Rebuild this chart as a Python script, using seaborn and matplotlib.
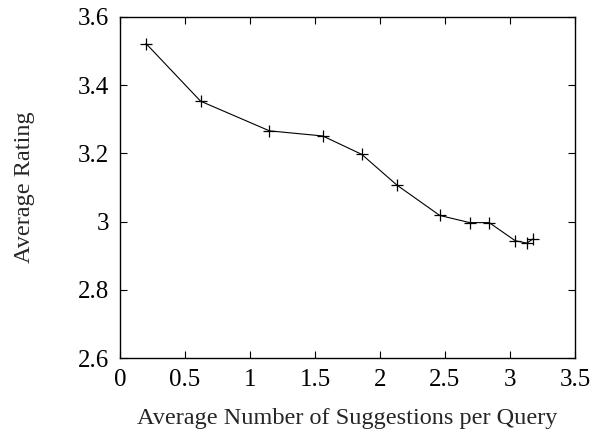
import matplotlib
matplotlib.use("Agg")
import matplotlib.pyplot as plt
import seaborn as sns
import pandas

# values
suggestions = [0.20, 0.62, 1.15, 1.56, 1.86, 2.13, 2.46, 2.69, 2.84, 3.04, 3.13, 3.18]
rating = [3.522, 3.353, 3.266, 3.251, 3.197, 3.107, 3.018, 2.997, 2.997, 2.944, 2.937, 2.950]
xticks = [0, 0.5, 1, 1.5, 2, 2.5, 3, 3.5]
yticks = [2.6, 2.8, 3.0, 3.2, 3.4, 3.6]
ytick_labels = ["2.6", "2.8", "3", "3.2", "3.4", "3.6"]

sns.set_style("ticks")
plt.rcParams["font.family"] = ["Liberation Serif", "DejaVu Serif"]

df = pandas.DataFrame({"x": suggestions, "y": rating})

fig = plt.figure(figsize=(5.94, 4.34), dpi=100)
ax = fig.add_axes([0.202, 0.175, 0.766, 0.786])
sns.lineplot(data=df, x="x", y="y", ax=ax, color="black", linewidth=0.8,
             marker="+", markersize=8, markeredgewidth=0.9, markeredgecolor="black")

ax.set_xlim(0, 3.5)
ax.set_ylim(2.6, 3.6)
ax.set_xticks(xticks)
ax.set_xticklabels([f"{t:g}" for t in xticks])
ax.set_yticks(yticks)
ax.set_yticklabels(ytick_labels)
ax.tick_params(direction="in", length=5, width=0.8, labelsize=18,
               top=True, right=True, colors="black", pad=8)
for s in ax.spines.values():
    s.set_linewidth(1.0)
    s.set_color("black")
    s.set_visible(True)

ax.set_xlabel("Average Number of Suggestions per Query", fontsize=17.5, labelpad=12)
ax.set_ylabel("Average Rating", fontsize=17.5, labelpad=31)

fig.savefig("out.png", dpi=100)
